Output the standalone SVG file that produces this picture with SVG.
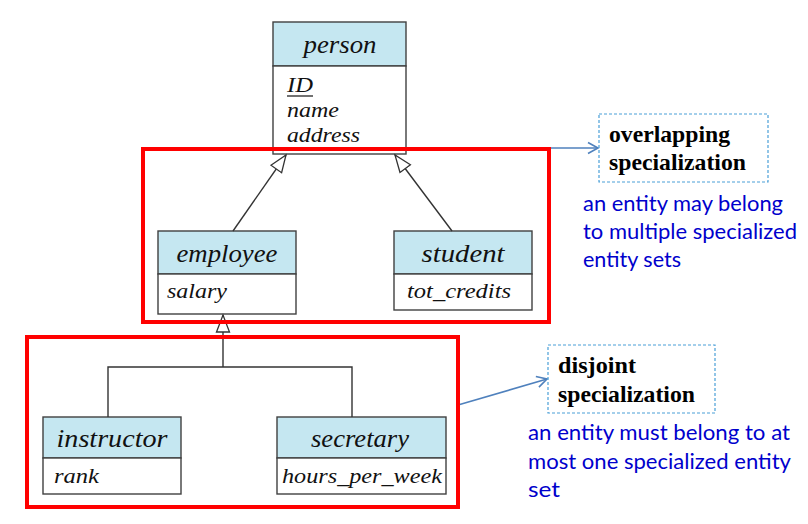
<svg xmlns="http://www.w3.org/2000/svg" width="808" height="524" viewBox="0 0 808 524">
<style>
.hdr{fill:#c5e7f1;stroke:#404040;stroke-width:1.4}
.body{fill:#fff;stroke:#404040;stroke-width:1.4}
.h{font-size:25px}
.a{font-size:21px}
.conn{stroke:#333;stroke-width:1.4;fill:none}
.red{fill:none;stroke:#ff0000;stroke-width:4}
.dash{fill:none;stroke:#4a9fd8;stroke-width:1.2;stroke-dasharray:3,2}
.barrow{stroke:#4f81bd;stroke-width:1.6;fill:none}
</style>
<defs>
<marker id="tri" markerUnits="userSpaceOnUse" markerWidth="22" markerHeight="18" refX="18" refY="8" orient="auto">
<path d="M1,1.5 L18,8 L1,14.5 Z" fill="#fff" stroke="#333" stroke-width="1.3"/>
</marker>
<marker id="vee" markerUnits="userSpaceOnUse" markerWidth="14" markerHeight="14" refX="12" refY="7" orient="auto">
<path d="M2,1.5 L12,7 L2,12.5" fill="none" stroke="#4f81bd" stroke-width="1.6"/>
</marker>
</defs>

<g font-family="'Liberation Serif', serif" font-style="italic" fill="#111">
<g id="person">
<rect class="hdr" x="273" y="22" width="133" height="44"/>
<rect class="body" x="273" y="66" width="133" height="88"/>
<text class="h" x="340" y="53" text-anchor="middle" textLength="73" lengthAdjust="spacingAndGlyphs">person</text>
<text class="a" x="287" y="92" textLength="26" lengthAdjust="spacingAndGlyphs">ID</text>
<line x1="287" y1="96" x2="313" y2="96" stroke="#111" stroke-width="1.2"/>
<text class="a" x="287" y="117" textLength="52" lengthAdjust="spacingAndGlyphs">name</text>
<text class="a" x="287" y="142" textLength="73" lengthAdjust="spacingAndGlyphs">address</text>
</g>

<g id="employee">
<rect class="hdr" x="158" y="231" width="138" height="43"/>
<rect class="body" x="158" y="274" width="138" height="40"/>
<text class="h" x="227" y="262" text-anchor="middle" textLength="101" lengthAdjust="spacingAndGlyphs">employee</text>
<text class="a" x="167" y="298" textLength="60" lengthAdjust="spacingAndGlyphs">salary</text>
</g>

<g id="student">
<rect class="hdr" x="394" y="231" width="138" height="43"/>
<rect class="body" x="394" y="274" width="138" height="36"/>
<text class="h" x="463" y="262" text-anchor="middle" textLength="83" lengthAdjust="spacingAndGlyphs">student</text>
<text class="a" x="407" y="298" textLength="104" lengthAdjust="spacingAndGlyphs">tot_credits</text>
</g>

<g id="instructor">
<rect class="hdr" x="43" y="417" width="138" height="41"/>
<rect class="body" x="43" y="458" width="138" height="36"/>
<text class="h" x="112" y="447" text-anchor="middle" textLength="111" lengthAdjust="spacingAndGlyphs">instructor</text>
<text class="a" x="54" y="483" textLength="45" lengthAdjust="spacingAndGlyphs">rank</text>
</g>

<g id="secretary">
<rect class="hdr" x="277" y="417" width="169" height="41"/>
<rect class="body" x="277" y="458" width="169" height="36"/>
<text class="h" x="360" y="447" text-anchor="middle" textLength="98" lengthAdjust="spacingAndGlyphs">secretary</text>
<text class="a" x="282" y="483" textLength="160" lengthAdjust="spacingAndGlyphs">hours_per_week</text>
</g>
</g>

<g id="connectors">
<line class="conn" x1="233" y1="231" x2="286" y2="155" marker-end="url(#tri)"/>
<line class="conn" x1="452" y1="231" x2="395" y2="155" marker-end="url(#tri)"/>
<line class="conn" x1="223" y1="367" x2="223" y2="315" marker-end="url(#tri)"/>
<polyline class="conn" points="108,417 108,367 352,367 352,417"/>
<line class="barrow" x1="549" y1="148" x2="598" y2="148" marker-end="url(#vee)"/>
<line class="barrow" x1="458" y1="405" x2="547" y2="379" marker-end="url(#vee)"/>
</g>

<g id="overlapping-group">
<rect class="red" x="143" y="149" width="406" height="173"/>
</g>
<g id="disjoint-group">
<rect class="red" x="27" y="337" width="431" height="170"/>
</g>

<g id="overlapping-note">
<rect class="dash" x="599" y="114" width="169" height="68"/>
<g font-family="'Liberation Serif', serif" font-weight="bold" font-size="23" fill="#000">
<text x="609" y="142" textLength="121" lengthAdjust="spacingAndGlyphs">overlapping</text>
<text x="609" y="170" textLength="137" lengthAdjust="spacingAndGlyphs">specialization</text>
</g>
<g font-family="Lato, 'Liberation Sans', sans-serif" font-size="21" fill="#0000cc">
<text x="583" y="211" textLength="200" lengthAdjust="spacingAndGlyphs">an entity may belong</text>
<text x="583" y="239" textLength="214" lengthAdjust="spacingAndGlyphs">to multiple specialized</text>
<text x="583" y="267" textLength="98" lengthAdjust="spacingAndGlyphs">entity sets</text>
</g>
</g>

<g id="disjoint-note">
<rect class="dash" x="548" y="345" width="167" height="68"/>
<g font-family="'Liberation Serif', serif" font-weight="bold" font-size="23" fill="#000">
<text x="558" y="373" textLength="78" lengthAdjust="spacingAndGlyphs">disjoint</text>
<text x="558" y="402" textLength="137" lengthAdjust="spacingAndGlyphs">specialization</text>
</g>
<g font-family="Lato, 'Liberation Sans', sans-serif" font-size="21" fill="#0000cc">
<text x="528" y="440" textLength="262" lengthAdjust="spacingAndGlyphs">an entity must belong to at</text>
<text x="528" y="469" textLength="263" lengthAdjust="spacingAndGlyphs">most one specialized entity</text>
<text x="528" y="497" textLength="32" lengthAdjust="spacingAndGlyphs">set</text>
</g>
</g>
</svg>
